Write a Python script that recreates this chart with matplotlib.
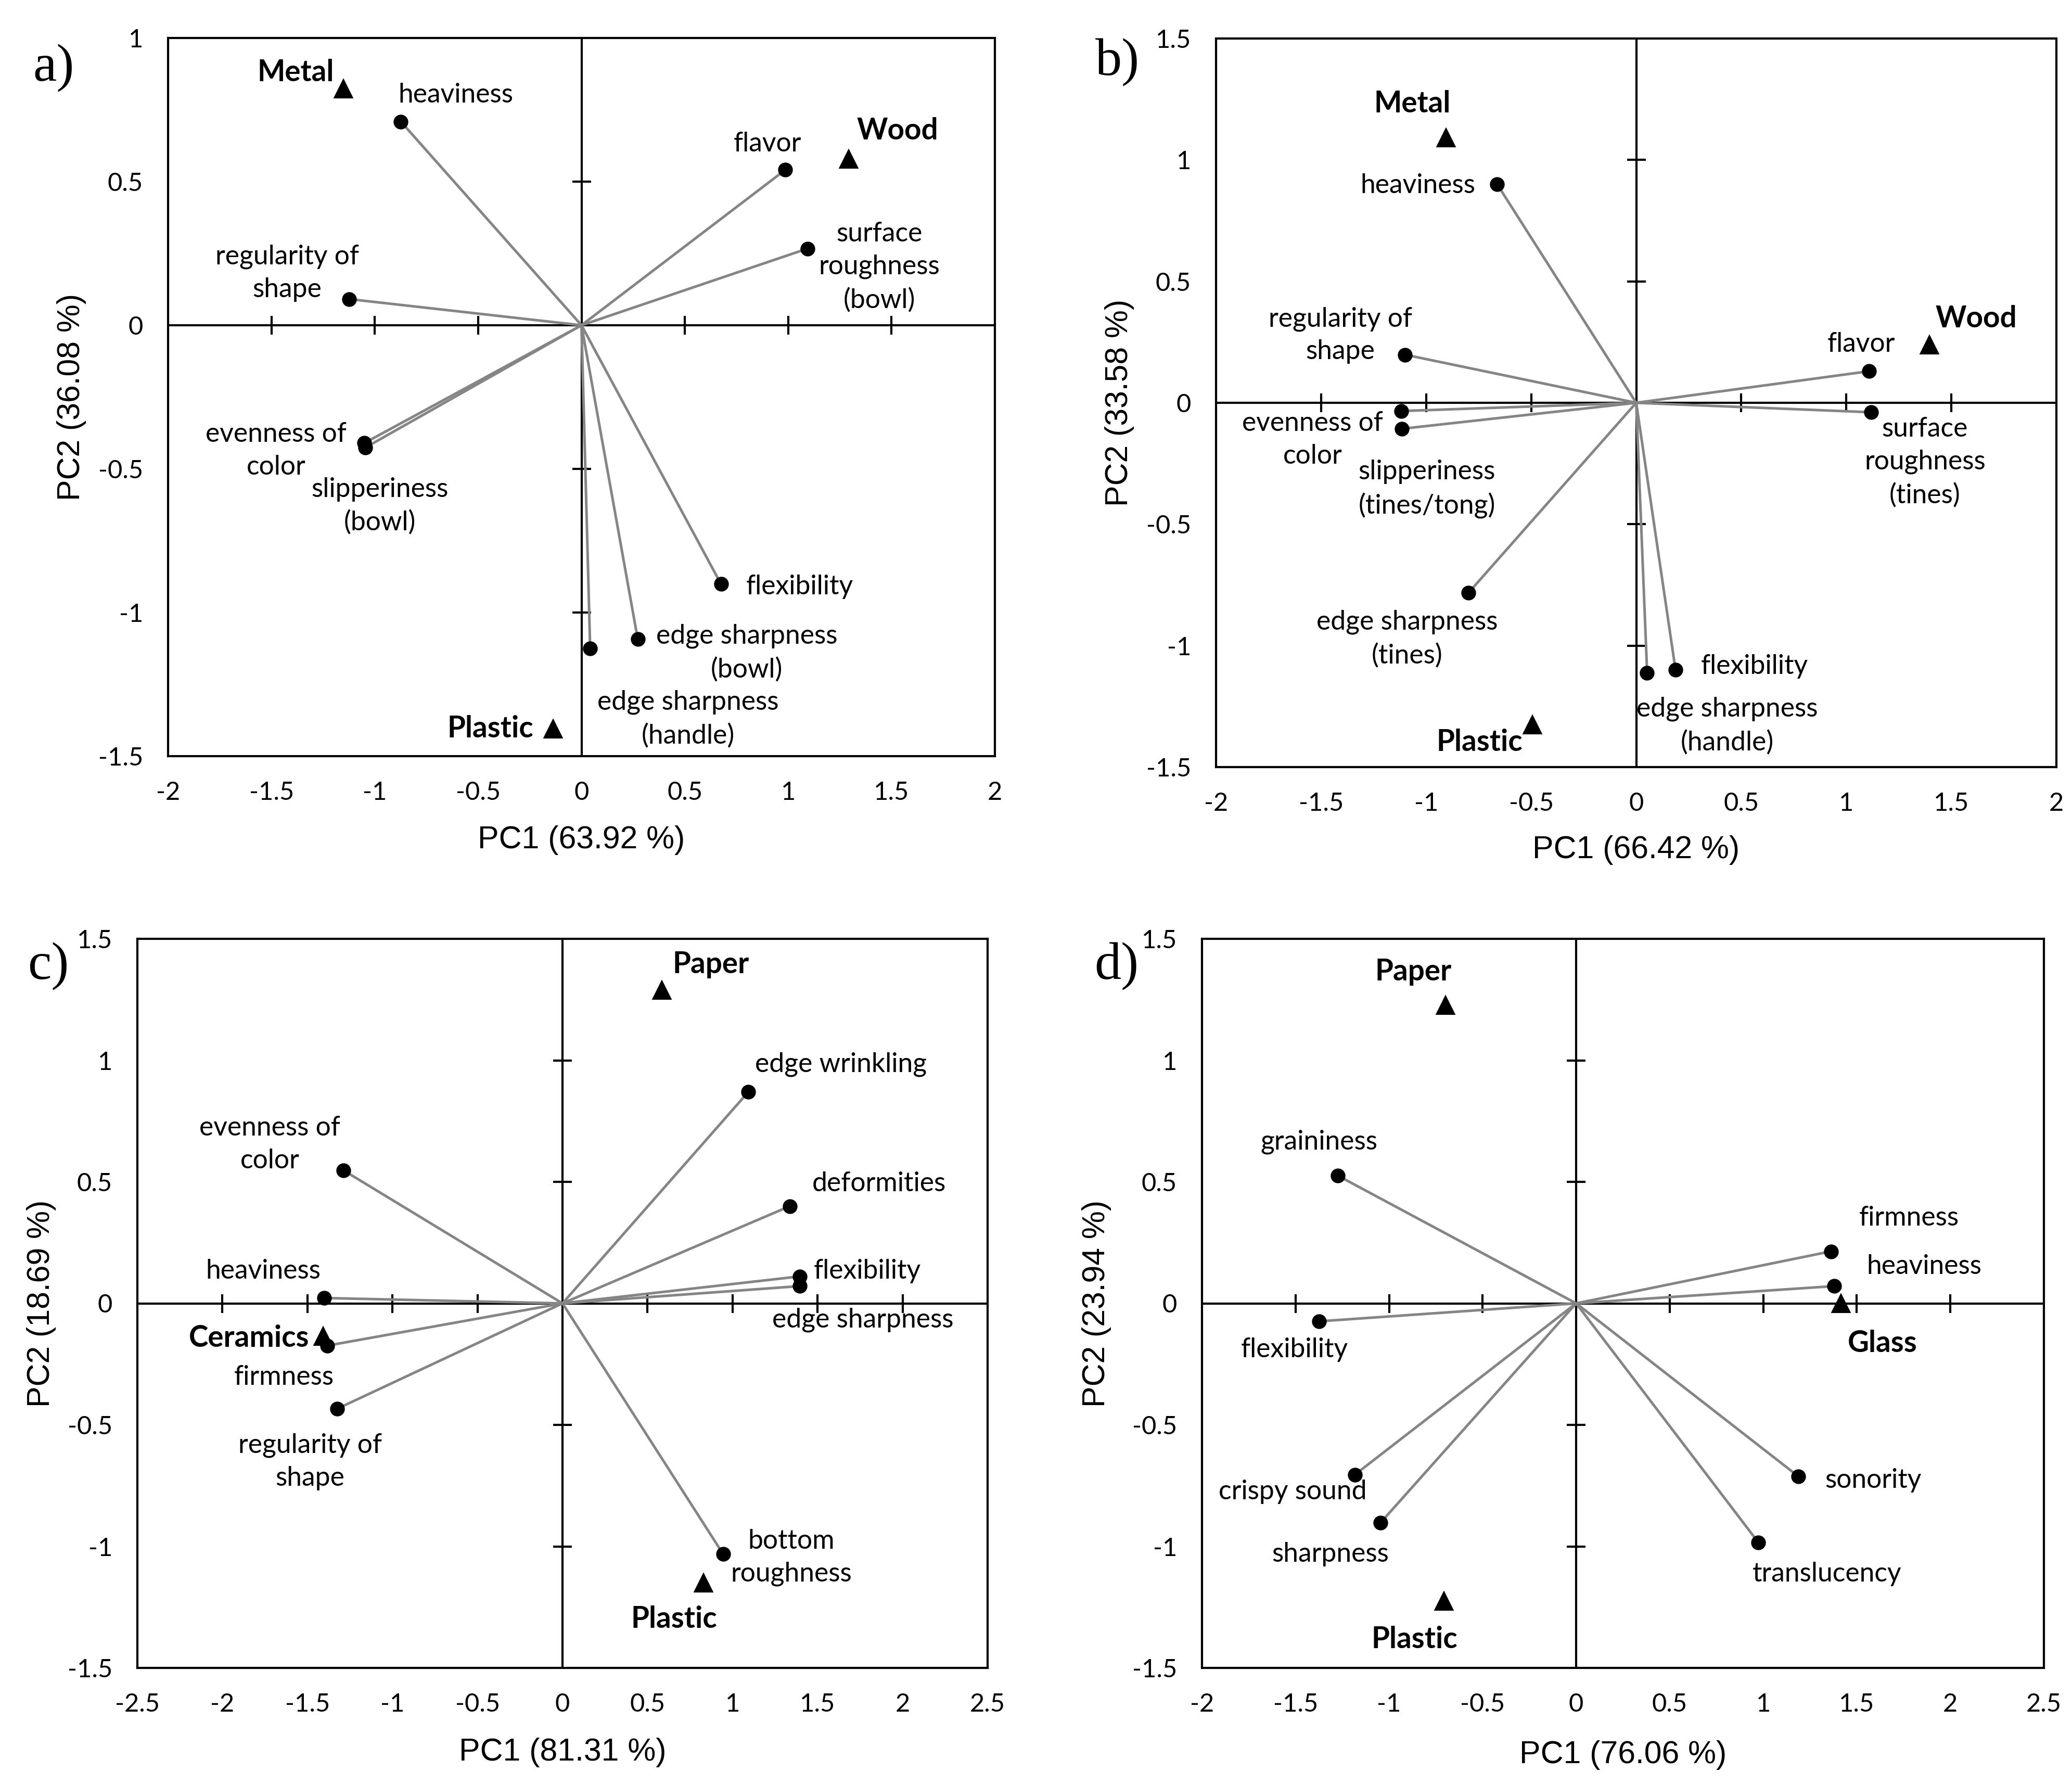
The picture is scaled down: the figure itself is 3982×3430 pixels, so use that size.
import matplotlib
matplotlib.use("Agg")
import matplotlib.pyplot as plt
import numpy as np

plt.rcParams['axes.unicode_minus'] = False

# ---------------- data ----------------
# Panel a
a_attr = ["heaviness", "regularity of\nshape", "evenness of\ncolor", "slipperiness\n(bowl)",
          "flavor", "surface\nroughness\n(bowl)", "flexibility", "edge sharpness\n(bowl)",
          "edge sharpness\n(handle)"]
a_pc1 = [-0.874, -1.123, -1.050, -1.046, 0.986, 1.094, 0.675, 0.272, 0.042]
a_pc2 = [0.709, 0.091, -0.410, -0.426, 0.541, 0.267, -0.901, -1.092, -1.125]
a_mat = ["Metal", "Wood", "Plastic"]
a_mat_pc1 = [-1.152, 1.293, -0.138]
a_mat_pc2 = [0.822, 0.578, -1.405]
a_xlabel = "PC1 (63.92 %)"
a_ylabel = "PC2 (36.08 %)"
a_xticks = [-2, -1.5, -1, -0.5, 0, 0.5, 1, 1.5, 2]
a_yticks = [-1.5, -1, -0.5, 0, 0.5, 1]

# Panel b
b_attr = ["heaviness", "regularity of\nshape", "evenness of\ncolor", "slipperiness\n(tines/tong)",
          "edge sharpness\n(tines)", "flavor", "surface\nroughness\n(tines)", "flexibility",
          "edge sharpness\n(handle)"]
b_pc1 = [-0.662, -1.100, -1.119, -1.116, -0.798, 1.109, 1.119, 0.187, 0.052]
b_pc2 = [0.900, 0.198, -0.034, -0.107, -0.782, 0.130, -0.039, -1.099, -1.113]
b_mat = ["Metal", "Wood", "Plastic"]
b_mat_pc1 = [-0.905, 1.396, -0.493]
b_mat_pc2 = [1.090, 0.238, -1.327]
b_xlabel = "PC1 (66.42 %)"
b_ylabel = "PC2 (33.58 %)"
b_xticks = [-2, -1.5, -1, -0.5, 0, 0.5, 1, 1.5, 2]
b_yticks = [-1.5, -1, -0.5, 0, 0.5, 1, 1.5]

# Panel c
c_attr = ["evenness of\ncolor", "heaviness", "firmness", "regularity of\nshape", "edge wrinkling",
          "deformities", "flexibility", "edge sharpness", "bottom\nroughness"]
c_pc1 = [-1.287, -1.400, -1.384, -1.326, 1.093, 1.337, 1.396, 1.396, 0.945]
c_pc2 = [0.547, 0.022, -0.174, -0.434, 0.870, 0.400, 0.111, 0.071, -1.032]
c_mat = ["Paper", "Ceramics", "Plastic"]
c_mat_pc1 = [0.583, -1.407, 0.828]
c_mat_pc2 = [1.287, -0.137, -1.151]
c_xlabel = "PC1 (81.31 %)"
c_ylabel = "PC2 (18.69 %)"
c_xticks = [-2.5, -2, -1.5, -1, -0.5, 0, 0.5, 1, 1.5, 2, 2.5]
c_yticks = [-1.5, -1, -0.5, 0, 0.5, 1, 1.5]

# Panel d
d_attr = ["graininess", "flexibility", "crispy sound", "sharpness", "firmness", "heaviness",
          "sonority", "translucency"]
d_pc1 = [-1.275, -1.375, -1.183, -1.046, 1.362, 1.380, 1.186, 0.973]
d_pc2 = [0.526, -0.074, -0.705, -0.903, 0.214, 0.071, -0.711, -0.983]
d_mat = ["Paper", "Glass", "Plastic"]
d_mat_pc1 = [-0.699, 1.415, -0.706]
d_mat_pc2 = [1.226, 0.0, -1.226]
d_xlabel = "PC1 (76.06 %)"
d_ylabel = "PC2 (23.94 %)"
d_xticks = [-2, -1.5, -1, -0.5, 0, 0.5, 1, 1.5, 2, 2.5]
d_yticks = [-1.5, -1, -0.5, 0, 0.5, 1, 1.5]

# ---------------- layout (label positions, data coords) ----------------
a_attr_pos = [(-0.608, 0.802), (-1.424, 0.182), (-1.478, -0.436), (-0.976, -0.630),
              (0.899, 0.632), (1.440, 0.202), (1.056, -0.911), (0.800, -1.141), (0.515, -1.371)]
a_mat_pos = [(-1.382, 0.880), (1.530, 0.676), (-0.442, -1.405)]

b_attr_pos = [(-1.040, 0.895), (-1.408, 0.278), (-1.540, -0.152), (-0.996, -0.355),
              (-1.090, -0.972), (1.072, 0.240), (1.374, -0.245), (0.562, -1.085), (0.433, -1.331)]
b_mat_pos = [(-1.065, 1.230), (1.619, 0.346), (-0.747, -1.399)]

c_attr_pos = [(-1.722, 0.655), (-1.761, 0.132), (-1.637, -0.303), (-1.485, -0.652),
              (1.637, 0.983), (1.862, 0.493), (1.792, 0.132), (1.765, -0.067), (1.345, -1.046)]
c_mat_pos = [(0.871, 1.394), (-1.843, -0.144), (0.657, -1.299)]

d_attr_pos = [(-1.374, 0.664), (-1.505, -0.191), (-1.516, -0.776), (-1.314, -1.032),
              (1.779, 0.352), (1.860, 0.151), (1.588, -0.727), (1.341, -1.114)]
d_mat_pos = [(-0.872, 1.364), (1.638, -0.165), (-0.865, -1.383)]

W, H = 3982, 3430
DPI = 300
fig = plt.figure(figsize=(W / DPI, H / DPI), dpi=DPI)

LINE_W = 1.0
TEXT_FONT = "Lato"
TEXT_SIZE = 12.4
BOLD_SIZE = 13.6
TICK_SIZE = 11.7


def fmt(v):
    return f"{v:g}"


def panel(rect, attr, pc1, pc2, mats, mpc1, mpc2, attr_pos, mat_pos,
          xticks, yticks, xlabel, ylabel, xl_y, yl_x, letter, letter_xy):
    ax = fig.add_axes(rect)
    ax.set_xlim(xticks[0], xticks[-1])
    ax.set_ylim(yticks[0], yticks[-1])
    ax.axhline(0, color="black", lw=LINE_W, zorder=1)
    ax.axvline(0, color="black", lw=LINE_W, zorder=1)
    ix = [t for t in xticks[1:-1] if t != 0]
    iy = [t for t in yticks[1:-1] if t != 0]
    ax.plot(ix, np.zeros(len(ix)), ls="none", marker="|", ms=8.6, mew=LINE_W,
            color="black", zorder=1)
    ax.plot(np.zeros(len(iy)), iy, ls="none", marker="_", ms=8.6, mew=LINE_W,
            color="black", zorder=1)
    for x, y in zip(pc1, pc2):
        ax.plot([0, x], [0, y], color="#858585", lw=1.2, zorder=2,
                solid_capstyle="butt")
    ax.plot(pc1, pc2, ls="none", marker="o", ms=5.8, color="black", zorder=3)
    ax.plot(mpc1, mpc2, ls="none", marker="^", ms=7.9, color="black", zorder=3)
    for name, (tx, ty) in zip(attr, attr_pos):
        ax.text(tx, ty, name, ha="center", va="center", multialignment="center",
                family=TEXT_FONT, fontsize=TEXT_SIZE, linespacing=1.42, zorder=4)
    for name, (tx, ty) in zip(mats, mat_pos):
        ax.text(tx, ty, name, ha="center", va="center", family=TEXT_FONT,
                fontweight="bold", fontsize=BOLD_SIZE, zorder=4)
    ax.set_xticks(xticks)
    ax.set_yticks(yticks)
    ax.set_xticklabels([fmt(t) for t in xticks], family=TEXT_FONT, fontsize=TICK_SIZE)
    ax.set_yticklabels([fmt(t) for t in yticks], family=TEXT_FONT, fontsize=TICK_SIZE)
    ax.tick_params(length=0, pad=11.5)
    for s in ax.spines.values():
        s.set_linewidth(LINE_W)
        s.set_color("black")
    ax.set_xlabel(xlabel, family="Liberation Sans", fontsize=14.6, va="center")
    ax.xaxis.set_label_coords(0.5, xl_y)
    ax.set_ylabel(ylabel, family="Liberation Sans", fontsize=14.6, va="center")
    ax.yaxis.set_label_coords(yl_x, 0.5)
    fig.text(letter_xy[0] / W, 1 - letter_xy[1] / H, letter, family="Liberation Serif",
             fontsize=24.5, ha="left", va="center")
    return ax


panel([323 / W, 1 - 1453 / H, (1912 - 323) / W, (1453 - 73) / H],
      a_attr, a_pc1, a_pc2, a_mat, a_mat_pc1, a_mat_pc2, a_attr_pos, a_mat_pos,
      a_xticks, a_yticks, a_xlabel, a_ylabel, -0.117, -0.117, "a)", (63, 131))

panel([2337 / W, 1 - 1474 / H, (3952 - 2337) / W, (1474 - 74) / H],
      b_attr, b_pc1, b_pc2, b_mat, b_mat_pc1, b_mat_pc2, b_attr_pos, b_mat_pos,
      b_xticks, b_yticks, b_xlabel, b_ylabel, -0.114, -0.115, "b)", (2105, 120))

panel([264 / W, 1 - 3205 / H, (1898 - 264) / W, (3205 - 1804) / H],
      c_attr, c_pc1, c_pc2, c_mat, c_mat_pc1, c_mat_pc2, c_attr_pos, c_mat_pos,
      c_xticks, c_yticks, c_xlabel, c_ylabel, -0.116, -0.113, "c)", (53, 1857))

panel([2310 / W, 1 - 3205 / H, (3928 - 2310) / W, (3205 - 1804) / H],
      d_attr, d_pc1, d_pc2, d_mat, d_mat_pc1, d_mat_pc2, d_attr_pos, d_mat_pos,
      d_xticks, d_yticks, d_xlabel, d_ylabel, -0.1195, -0.125, "d)", (2103, 1857))

fig.savefig("out.png", dpi=DPI, facecolor="white")
